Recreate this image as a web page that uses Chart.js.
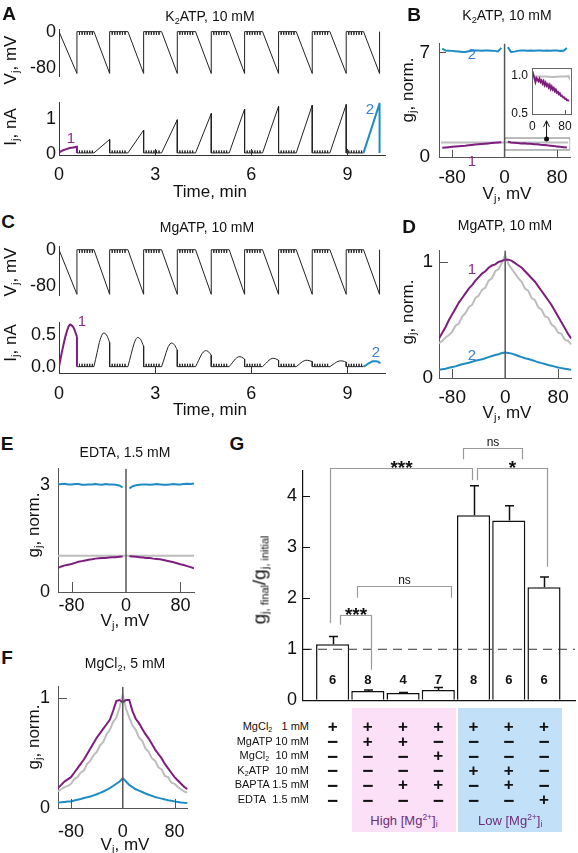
<!DOCTYPE html>
<html><head><meta charset="utf-8">
<script src="https://cdn.jsdelivr.net/npm/chart.js@4.4.1/dist/chart.umd.min.js"></script>
<style>
html,body{margin:0;padding:0;background:#fff;}
#root{position:relative;width:578px;height:853px;overflow:hidden;background:#fff;font-family:'Liberation Sans',Arial,sans-serif;color:#111;}
.t{position:absolute;white-space:nowrap;line-height:1;}
sub{font-size:0.65em;vertical-align:-0.3em;line-height:0;}
sup{font-size:0.65em;vertical-align:0.55em;line-height:0;}
canvas{position:absolute;}
</style></head><body><div id="root"></div>
<script>
// ================= DATA =================
// Panels A & C: voltage protocol (time in min)
const jumpT = [0.56, 1.58, 2.64, 3.69, 4.75, 5.79, 6.85, 7.90, 8.96, 10.0];
const rampT = [0.00, 1.09, 2.15, 3.20, 4.26, 5.31, 6.35, 7.40, 8.45, 9.50];
const combOffsets = [0.08, 0.16, 0.24, 0.32, 0.40, 0.48];
const vRampEndA = -91;
const vRampEndC = -99;
const vPulse = -7;
const rampFrac = [0, 0.2, 0.4, 0.6, 0.8, 1];
const timeTicks = [0, 3, 6, 9];
const vTicks = [0, -80];
// Panel A junctional current (nA)
const aBase = 0.03, aPulse = 0.07;
const aFirst = [0.04, 0.10, 0.14, 0.17, 0.19, 0.21];
const aPeak = [0.21, 0.42, 0.69, 0.99, 1.17, 1.30, 1.38, 1.41, 1.43, 1.46];
const aITicks = [0, 1];
// Panel C junctional current (nA), values at rampFrac of each ramp
const cBase = 0, cPulse = 0.045;
const cRamps = [
  [0, 0.28, 0.52, 0.66, 0.62, 0.47],
  [0, 0.22, 0.43, 0.53, 0.50, 0.38],
  [0, 0.19, 0.37, 0.46, 0.43, 0.32],
  [0, 0.15, 0.30, 0.37, 0.35, 0.26],
  [0, 0.10, 0.20, 0.25, 0.24, 0.18],
  [0, 0.06, 0.12, 0.155, 0.15, 0.12],
  [0, 0.05, 0.10, 0.13, 0.125, 0.10],
  [0, 0.04, 0.08, 0.10, 0.095, 0.08],
  [0, 0.035, 0.07, 0.09, 0.088, 0.07],
  [0, 0.03, 0.065, 0.085, 0.085, 0.075]
];
const cITicks = [0, 0.5];

// gj–Vj panels (Vj in mV)
const vGrid = [-100,-95,-90,-85,-80,-75,-70,-65,-60,-55,-50,-45,-40,-35,-30,-25,-20,-15,-10,-5,0,5,10,15,20,25,30,35,40,45,50,55,60,65,70,75,80,85,90,95,100];
const vjTicks = [-80, 0, 80];
// B: K2ATP
const bPurple = [null,0.62,0.64,0.66,0.68,0.70,0.72,0.74,0.76,0.79,0.81,0.83,0.85,0.87,0.89,0.91,0.93,0.95,0.97,0.99,null,1.02,0.97,0.96,0.94,0.91,0.92,0.88,0.89,0.85,0.86,0.82,0.81,0.78,0.76,0.73,0.71,0.68,0.66,0.64,null];
const bBlue = [null,7.25,7.12,7.11,7.10,7.08,7.06,7.02,7.03,7.08,7.11,7.12,7.12,7.11,7.12,7.12,7.11,7.10,7.06,7.30,null,7.35,7.02,7.05,7.10,7.12,7.12,7.11,7.12,7.11,7.12,7.12,7.11,7.12,7.11,7.12,7.12,7.10,7.11,7.30,null];
const bGrayX = [-97, 97], bGray = [0.97, 0.97];
const bBoxX = [0, 100, 100, 0, 0], bBoxY = [0.47, 0.47, 1.27, 1.27, 0.47];
const bArrowX = [64, 64], bArrowY = [1.21, 2.42];
const bHeadX = [59.5, 64, 68.5], bHeadY = [2.02, 2.42, 2.02];
const bTicksY = [0, 7];
// B inset
const inX = [0,2.5,5,7.5,10,12.5,15,17.5,20,22.5,25,27.5,30,32.5,35,37.5,40,42.5,45,47.5,50,52.5,55,57.5,60,62.5,65,67.5,70,72.5,75,77.5,80,82.5,85,87.5,90];
const inPurple = [1.06,1.01,0.97,0.92,0.97,0.95,0.93,0.96,0.92,0.94,0.90,0.93,0.88,0.91,0.87,0.89,0.85,0.88,0.83,0.86,0.82,0.84,0.80,0.82,0.78,0.79,0.76,0.77,0.74,0.74,0.72,0.72,0.70,0.70,0.68,0.68,0.67];
const inGrayX = [0, 2, 5, 10, 30, 50, 70, 85, 88, 90];
const inGray = [1.05, 1.01, 1.0, 0.99, 0.99, 0.985, 0.99, 0.99, 1.0, 0.98];
// D: MgATP
const dPurple = [0.34,0.39,0.44,0.50,0.55,0.60,0.65,0.69,0.73,0.77,0.80,0.84,0.87,0.90,0.92,0.95,0.97,0.98,1.00,1.01,1.02,1.02,1.01,0.99,0.97,0.95,0.92,0.89,0.86,0.83,0.79,0.75,0.71,0.67,0.63,0.58,0.53,0.48,0.43,0.38,0.34];
const dGray = [0.30,0.32,0.35,0.37,0.40,0.45,0.47,0.53,0.56,0.61,0.63,0.69,0.71,0.76,0.78,0.84,0.86,0.92,0.94,0.99,1.06,0.98,0.94,0.90,0.86,0.83,0.77,0.75,0.69,0.67,0.61,0.59,0.53,0.52,0.46,0.44,0.39,0.38,0.33,0.32,0.29];
const dBlue = [0.07,0.075,0.08,0.088,0.095,0.10,0.11,0.118,0.125,0.132,0.14,0.148,0.155,0.162,0.17,0.18,0.19,0.198,0.205,0.215,0.22,0.215,0.21,0.20,0.19,0.18,0.17,0.163,0.155,0.145,0.135,0.128,0.12,0.112,0.105,0.098,0.09,0.085,0.08,0.075,0.07];
const unitTicks = [0, 1];
// E: EDTA
const ePurple = [0.68,0.72,0.75,0.77,0.79,0.82,0.85,0.87,0.89,0.91,0.92,0.94,0.95,0.96,0.96,0.97,0.98,0.98,0.99,1.00,null,1.01,1.00,0.99,0.98,0.97,0.96,0.96,0.94,0.93,0.92,0.90,0.88,0.86,0.84,0.81,0.78,0.76,0.73,0.70,0.67];
const eBlue = [3.03,3.04,3.05,3.03,3.03,3.04,3.04,3.02,3.02,3.03,3.03,3.04,3.03,3.02,3.04,3.03,3.03,3.02,3.00,2.95,null,2.92,2.98,3.01,3.02,3.03,3.03,3.02,3.03,3.04,3.03,3.02,3.02,3.03,3.04,3.03,3.03,3.04,3.05,3.04,3.06];
const eGrayX = [-100, 100], eGray = [1.02, 1.02];
const eTicksY = [0, 3];
// F: MgCl2
const fPurple = [0.18,0.21,0.24,0.26,0.28,0.32,0.36,0.40,0.44,0.49,0.54,0.59,0.64,0.68,0.72,0.76,0.80,0.88,0.97,0.98,0.96,0.98,0.98,0.88,0.81,0.77,0.72,0.67,0.63,0.58,0.53,0.49,0.45,0.40,0.36,0.32,0.28,0.25,0.22,0.19,0.17];
const fGray = [0.15,0.17,0.19,0.20,0.22,0.26,0.28,0.32,0.34,0.40,0.43,0.48,0.51,0.57,0.60,0.67,0.71,0.78,0.82,0.91,1.03,0.90,0.82,0.75,0.71,0.64,0.61,0.54,0.51,0.45,0.43,0.37,0.35,0.29,0.28,0.23,0.22,0.19,0.17,0.15,0.14];
const fBlue = [0.05,0.052,0.055,0.058,0.06,0.068,0.075,0.082,0.09,0.097,0.105,0.115,0.125,0.137,0.15,0.165,0.18,0.20,0.22,0.24,0.27,0.24,0.21,0.19,0.17,0.157,0.145,0.132,0.12,0.11,0.10,0.092,0.085,0.078,0.07,0.065,0.06,0.055,0.05,0.047,0.045];

// G: bar chart
const gCats = [1, 2, 3, 4, 5, 6, 7];
const gMean = [1.10, 0.18, 0.14, 0.20, 3.63, 3.53, 2.22];
const gSem = [0.15, 0.02, 0.01, 0.05, 0.58, 0.29, 0.20];
const gN = [6, 8, 4, 7, 8, 6, 6];
const gTicks = [0, 1, 2, 3, 4];
const gRef = 1;
// brackets: [xLeft, xRight, yTop, yLeftEnd, yRightEnd]
const gBrackets = [
  [0.93, 4.95, 4.56, 1.51, 4.32],
  [4.69, 6.37, 4.95, 4.73, 4.73],
  [5.09, 7.09, 4.56, 4.32, 2.62],
  [1.70, 4.35, 2.25, 2.01, 2.01],
  [1.21, 2.08, 1.67, 1.48, 0.60]
];
const gBracketLabels = ['***', 'ns', '*', 'ns', '***'];
const gRows = ['MgCl<sub>2</sub>&nbsp;&nbsp;&nbsp;1 mM', 'MgATP 10 mM', 'MgCl<sub>2</sub>&nbsp;&nbsp;10 mM', 'K<sub>2</sub>ATP&nbsp;&nbsp;10 mM', 'BAPTA 1.5 mM', 'EDTA&nbsp;&nbsp;1.5 mM'];
const gSigns = [
  ['+','+','+','+','+','+','+'],
  ['-','+','+','-','-','-','-'],
  ['-','-','-','+','-','-','-'],
  ['-','-','-','-','+','+','-'],
  ['-','-','+','+','-','+','-'],
  ['-','-','-','-','-','-','+']
];
const gGroups = [[1.55, 4.50], [4.56, 7.52]];
const gGroupLabels = ['High [Mg<sup>2+</sup>]<sub>i</sub>', 'Low [Mg<sup>2+</sup>]<sub>i</sub>'];

// ================= STYLE =================
const PURPLE = '#7d1d7d', BLUE = '#1e8cc2', GRAY = '#bdbdbd', BLACK = '#222';
const root = document.getElementById('root');
Chart.defaults.font.family = "'Liberation Sans', Arial, sans-serif";
Chart.defaults.color = '#111';

const xy = (xs, ys) => xs.map((x, i) => ({x, y: ys[i]}));
function ds(data, color, width, extra) {
  return Object.assign({type: 'line', data, borderColor: color, backgroundColor: color, borderWidth: width, pointRadius: 0, fill: false, spanGaps: false, tension: 0}, extra || {});
}
function axis(o) {
  return {
    type: 'linear', min: o.min, max: o.max, display: o.display !== false, offset: false,
    afterBuildTicks: s => { s.ticks = (o.ticks || []).map(v => ({value: v})); },
    afterFit: o.fit,
    ticks: {display: !!(o.ticks && o.ticks.length), font: {size: o.font || 18}, padding: o.pad ?? 4, color: '#111', maxRotation: 0, autoSkip: false, callback: o.fmt || (v => String(v))},
    grid: {display: true, drawOnChartArea: false, drawTicks: false},
    border: {display: true, color: o.color || '#333', width: o.bw || 1}
  };
}
function tickPlugin(o) {
  return {id: 'inTicks', afterDraw(chart) {
    const {ctx, chartArea: a, scales} = chart;
    ctx.save(); ctx.strokeStyle = o.color || '#444'; ctx.lineWidth = 1;
    (o.x || []).forEach(v => { const p = Math.round(scales.x.getPixelForValue(v)) + 0.5; ctx.beginPath(); ctx.moveTo(p, a.bottom); ctx.lineTo(p, a.bottom - o.len); ctx.stroke(); });
    (o.y || []).forEach(v => { const p = Math.round(scales.y.getPixelForValue(v)) + 0.5; ctx.beginPath(); ctx.moveTo(a.left, p); ctx.lineTo(a.left + o.len, p); ctx.stroke(); });
    ctx.restore();
  }};
}
function makeChart(cfg) {
  const a = cfg.area, m = cfg.m;
  const W = a.x2 - a.x1 + m.l + m.r, H = a.y2 - a.y1 + m.t + m.b;
  const cv = document.createElement('canvas');
  cv.width = W; cv.height = H;
  cv.style.cssText = `left:${a.x1 - m.l}px;top:${a.y1 - m.t}px;width:${W}px;height:${H}px`;
  root.appendChild(cv);
  const plugins = [];
  if (cfg.inTicks) plugins.push(tickPlugin(cfg.inTicks));
  if (cfg.extra) plugins.push(...cfg.extra);
  const ch = new Chart(cv, {
    type: cfg.type || 'line',
    data: {datasets: cfg.datasets},
    options: {
      responsive: false, animation: false, events: [],
      layout: {padding: {left: 0, top: m.t, right: m.r, bottom: 0}},
      plugins: {legend: {display: false}, tooltip: {enabled: false}},
      elements: {point: {radius: 0}, line: {tension: 0, borderWidth: 1}},
      scales: {
        x: axis(Object.assign({fit: s => { s.height = m.b; }}, cfg.x)),
        y: axis(Object.assign({fit: s => { s.width = m.l; }}, cfg.y))
      }
    },
    plugins
  });
  ch.$off = {x: a.x1 - m.l, y: a.y1 - m.t};
  return ch;
}
function txt(html, x, y, style, rot, anchor) {
  const d = document.createElement('div');
  d.className = 't';
  d.innerHTML = html;
  const tr = anchor === 'right' ? 'translate(-100%,-50%)' : 'translate(-50%,-50%)';
  d.style.cssText = `left:${x}px;top:${y}px;transform:${tr}${rot ? ' rotate(-90deg)' : ''};${style || ''}`;
  root.appendChild(d);
  return d;
}

// ================= TRACE BUILDERS =================
function vTrace(bottom) {
  const p = [];
  for (let k = 0; k < jumpT.length; k++) {
    if (k > 0) combOffsets.forEach(o => { const t = jumpT[k - 1] + o; p.push({x: t, y: 0}, {x: t, y: vPulse}, {x: t, y: 0}); });
    p.push({x: rampT[k], y: 0}, {x: jumpT[k], y: bottom}, {x: jumpT[k], y: 0});
  }
  return p;
}
function aCurrent() {
  const n = jumpT.length, black = [];
  const purple = rampFrac.map((f, i) => ({x: rampT[0] + f * (jumpT[0] - rampT[0]), y: aFirst[i]}));
  purple.push({x: jumpT[0], y: aBase});
  for (let k = 0; k < n - 1; k++) {
    black.push({x: jumpT[k], y: aBase});
    combOffsets.forEach(o => { const t = jumpT[k] + o; black.push({x: t, y: aBase}, {x: t, y: aBase + aPulse}, {x: t, y: aBase}); });
    black.push({x: rampT[k + 1], y: aBase});
    if (k + 1 < n - 1) black.push({x: jumpT[k + 1], y: aPeak[k + 1]}, {x: jumpT[k + 1], y: aBase});
  }
  const blue = [{x: rampT[n - 1], y: aBase}, {x: jumpT[n - 1], y: aPeak[n - 1]}, {x: jumpT[n - 1], y: aBase}];
  return {black, purple, blue};
}
function cCurrent() {
  const n = jumpT.length;
  const bump = k => rampFrac.map((f, i) => ({x: rampT[k] + f * (jumpT[k] - rampT[k]), y: cRamps[k][i]}));
  const flat = [], bumps = [];
  for (let k = 0; k < n - 1; k++) {
    if (k > 0) flat.push({x: jumpT[k], y: cRamps[k][5]});
    flat.push({x: jumpT[k], y: cBase});
    combOffsets.forEach(o => { const t = jumpT[k] + o; flat.push({x: t, y: cBase}, {x: t, y: cBase + cPulse}, {x: t, y: cBase}); });
    flat.push({x: rampT[k + 1], y: cBase}, {x: rampT[k + 1] + 0.01, y: null});
    if (k > 0) bumps.push(...bump(k), {x: jumpT[k] + 0.01, y: null});
  }
  return {
    flat, bumps,
    purple: bump(0), purpleDrop: [{x: jumpT[0], y: cRamps[0][5]}, {x: jumpT[0], y: cBase}],
    blue: bump(n - 1), blueDrop: [{x: jumpT[n - 1], y: cRamps[n - 1][5]}, {x: jumpT[n - 1], y: cRamps[n - 1][5] - 0.03}]
  };
}

// ================= PANEL A =================
const tAxis = {min: 0, max: 10.17};
makeChart({area: {x1: 59, x2: 385, y1: 28, y2: 90}, m: {l: 50, t: 12, r: 8, b: 0},
  x: Object.assign({display: false}, tAxis),
  y: {min: -97, max: 4, ticks: vTicks, pad: 3},
  datasets: [ds(vTrace(vRampEndA), BLACK, 1)]});
const aI = aCurrent();
makeChart({area: {x1: 59, x2: 385, y1: 95, y2: 155}, m: {l: 50, t: 6, r: 8, b: 40},
  x: Object.assign({ticks: timeTicks, pad: 9}, tAxis),
  y: {min: -0.03, max: 1.48, ticks: aITicks, pad: 3},
  inTicks: {x: [3, 6, 9], len: 6, color: '#333'},
  datasets: [ds(aI.purple, PURPLE, 2), ds(aI.blue, BLUE, 2), ds(aI.black, BLACK, 1)]});

// ================= PANEL C =================
makeChart({area: {x1: 59, x2: 385, y1: 245, y2: 309}, m: {l: 50, t: 12, r: 8, b: 0},
  x: Object.assign({display: false}, tAxis),
  y: {min: -101, max: 6.5, ticks: vTicks, pad: 3},
  datasets: [ds(vTrace(vRampEndC), BLACK, 1)]});
const cI = cCurrent();
makeChart({area: {x1: 59, x2: 385, y1: 313, y2: 373}, m: {l: 50, t: 4, r: 8, b: 40},
  x: Object.assign({ticks: timeTicks, pad: 10}, tAxis),
  y: {min: -0.1, max: 0.69, ticks: cITicks, pad: 3, fmt: v => v.toFixed(1)},
  inTicks: {x: [3, 6, 9], len: 6, color: '#333'},
  datasets: [ds(cI.purple, PURPLE, 2, {tension: 0.3}), ds(cI.purpleDrop, PURPLE, 2),
             ds(cI.blue, BLUE, 2, {tension: 0.3}), ds(cI.blueDrop, BLUE, 2),
             ds(cI.bumps, BLACK, 1, {tension: 0.3}), ds(cI.flat, BLACK, 1)]});

// ================= gj panels =================
const spine = '#555';
function zeroLine(min, max) { return ds([{x: 0, y: min}, {x: 0, y: max}], '#555', 1.5); }

// B
makeChart({area: {x1: 439, x2: 574, y1: 33, y2: 157}, m: {l: 40, t: 10, r: 3, b: 40},
  x: {min: -100, max: 100, ticks: vjTicks, pad: 9, font: 19, color: spine},
  y: {min: 0, max: 7.6, ticks: bTicksY, pad: 9, font: 19, color: spine},
  inTicks: {x: [-80, 80], y: [7], len: 7, color: '#555'},
  datasets: [zeroLine(0, 7.6),
    ds(xy(bArrowX, bArrowY), '#111', 1), ds(xy(bHeadX, bHeadY), '#111', 1),
    ds([{x: bArrowX[0], y: bArrowY[0]}], '#111', 0, {pointRadius: 2.5, showLine: false}),
    ds(xy(vGrid, bBlue), BLUE, 2), ds(xy(vGrid, bPurple), PURPLE, 2),
    ds(xy(bGrayX, bGray), GRAY, 2), ds(xy(bBoxX, bBoxY), '#777', 1)]});
// B inset
const insetBg = {id: 'insetBg', beforeDatasetsDraw(chart) { const {ctx, chartArea: a} = chart; ctx.save(); ctx.fillStyle = '#fff'; ctx.fillRect(a.left, a.top, a.right - a.left, a.bottom - a.top); ctx.restore(); },
  afterDraw(chart) { const {ctx, chartArea: a} = chart; ctx.save(); ctx.strokeStyle = '#666'; ctx.lineWidth = 1; ctx.strokeRect(Math.round(a.left) + 0.5, Math.round(a.top) + 0.5, Math.round(a.right - a.left), Math.round(a.bottom - a.top)); ctx.restore(); }};
makeChart({area: {x1: 532, x2: 574, y1: 65, y2: 114}, m: {l: 26, t: 8, r: 3, b: 22},
  x: {min: -1, max: 94, ticks: [0, 80], pad: 5, font: 12, color: '#666'},
  y: {min: 0.5, max: 1.1, ticks: [0.5, 1.0], pad: 4, font: 12, color: '#666', fmt: v => v.toFixed(1)},
  inTicks: {x: [80], len: 4, color: '#666'}, extra: [insetBg],
  datasets: [ds(xy(inX, inPurple), PURPLE, 2), ds(xy(inGrayX, inGray), GRAY, 2)]});

// D
makeChart({area: {x1: 439, x2: 574, y1: 243, y2: 378}, m: {l: 40, t: 10, r: 3, b: 40},
  x: {min: -100, max: 100, ticks: vjTicks, pad: 8, font: 19, color: spine},
  y: {min: 0, max: 1.1, ticks: unitTicks, pad: 6, font: 19, color: spine},
  inTicks: {x: [-80, 80], y: [1], len: 9, color: '#555'},
  datasets: [zeroLine(0, 1.1), ds(xy(vGrid, dPurple), PURPLE, 2), ds(xy(vGrid, dBlue), BLUE, 2), ds(xy(vGrid, dGray), GRAY, 2)]});

// E
makeChart({area: {x1: 58, x2: 194, y1: 458, y2: 592}, m: {l: 30, t: 8, r: 4, b: 36},
  x: {min: -100, max: 100, ticks: vjTicks, pad: 3, font: 18, color: spine},
  y: {min: 0, max: 3.47, ticks: eTicksY, pad: 8, font: 18, color: spine},
  inTicks: {x: [-80, 80], len: 10, color: '#555'},
  datasets: [zeroLine(0, 3.47), ds(xy(vGrid, ePurple), PURPLE, 2), ds(xy(vGrid, eBlue), BLUE, 2), ds(xy(eGrayX, eGray), GRAY, 2)]});

// F
makeChart({area: {x1: 58, x2: 194, y1: 676, y2: 808}, m: {l: 30, t: 8, r: 4, b: 40},
  x: {min: -100, max: 100, ticks: vjTicks, pad: 13, font: 18, color: spine},
  y: {min: 0, max: 1.1, ticks: unitTicks, pad: 8, font: 18, color: spine},
  inTicks: {x: [-80, 80], y: [1], len: 9, color: '#555'},
  datasets: [zeroLine(0, 1.1), ds(xy(vGrid, fPurple), PURPLE, 2), ds(xy(vGrid, fBlue), BLUE, 2), ds(xy(vGrid, fGray), GRAY, 2)]});

// ================= PANEL G =================
const gExtras = {id: 'gExtras', afterDatasetsDraw(chart) {
  const {ctx, scales: {x, y}} = chart;
  const px = v => x.getPixelForValue(v), py = v => y.getPixelForValue(v);
  ctx.save();
  // error bars
  ctx.strokeStyle = '#111'; ctx.lineWidth = 1.5;
  gCats.forEach((c, i) => {
    const X = Math.round(px(c)) + 0.5, Y0 = py(gMean[i]), Y1 = py(gMean[i] + gSem[i]);
    ctx.beginPath(); ctx.moveTo(X, Y0); ctx.lineTo(X, Y1); ctx.moveTo(X - 4.5, Y1); ctx.lineTo(X + 4.5, Y1); ctx.stroke();
  });
  // n labels
  ctx.fillStyle = '#111'; ctx.font = "bold 13px 'Liberation Sans', Arial"; ctx.textAlign = 'center'; ctx.textBaseline = 'middle';
  gCats.forEach((c, i) => ctx.fillText(String(gN[i]), px(c), py(0.38)));
  // brackets
  ctx.strokeStyle = '#9a9a9a'; ctx.lineWidth = 1.2;
  gBrackets.forEach((b, i) => {
    const X1 = Math.round(px(b[0])) + 0.5, X2 = Math.round(px(b[1])) + 0.5, Y = Math.round(py(b[2])) + 0.5;
    ctx.beginPath(); ctx.moveTo(X1, py(b[3])); ctx.lineTo(X1, Y); ctx.lineTo(X2, Y); ctx.lineTo(X2, py(b[4])); ctx.stroke();
    const lab = gBracketLabels[i];
    ctx.textBaseline = 'alphabetic'; ctx.fillStyle = '#111';
    if (lab === 'ns') { ctx.font = "12px 'Liberation Sans', Arial"; ctx.fillText(lab, (X1 + X2) / 2, Y - 3); }
    else { ctx.font = "bold 19px 'Liberation Sans', Arial"; ctx.fillText(lab, (X1 + X2) / 2, Y + 5); }
  });
  ctx.restore();
}};
const gChart = makeChart({type: 'bar', area: {x1: 303, x2: 575, y1: 471, y2: 703}, m: {l: 40, t: 35, r: 2, b: 14},
  x: {min: 0.16, max: 7.88, ticks: [], color: '#111', bw: 1.2},
  y: {min: 0, max: 4.5, ticks: gTicks, pad: 6, font: 18, color: '#111', bw: 1.2},
  inTicks: {y: [1, 2, 3, 4], len: 7, color: '#111'}, extra: [gExtras],
  datasets: [
    ds([{x: 0.16, y: gRef}, {x: 7.88, y: gRef}], '#333', 1, {borderDash: [9, 6]}),
    {type: 'bar', data: xy(gCats, gMean), backgroundColor: '#fff', borderColor: '#111', borderWidth: 1.5, categoryPercentage: 1, barPercentage: 0.94}
  ]});

// table under G
const gx = v => gChart.$off.x + gChart.scales.x.getPixelForValue(v);
const groupColors = ['#fbe0f8', '#c2e0f8'];
gGroups.forEach((g, i) => {
  const d = document.createElement('div');
  d.style.cssText = `position:absolute;left:${gx(g[0])}px;top:708px;width:${gx(g[1]) - gx(g[0])}px;height:124px;background:${groupColors[i]}`;
  root.appendChild(d);
  txt(gGroupLabels[i], (gx(g[0]) + gx(g[1])) / 2, 820, 'font-size:13px;color:#6b2d7b');
});
const rowY = [726, 740.6, 755.2, 769.8, 784.4, 799];
gRows.forEach((r, i) => {
  txt(r, 309, rowY[i], 'font-size:11px;color:#111', false, 'right');
  gSigns[i].forEach((s, j) => {
    if (s === '+') txt('+', gx(gCats[j]), rowY[i], 'font-size:17px;font-weight:bold;color:#111');
    else txt('&minus;', gx(gCats[j]), rowY[i] + 0.5, 'font-size:19px;font-weight:bold;color:#111');
  });
});

// ================= TEXT =================
const L = 'font-size:19px;font-weight:bold';
[['A', 9, 13], ['B', 414, 14], ['C', 8, 221], ['D', 409, 226], ['E', 7, 443], ['F', 7, 657], ['G', 237, 443]].forEach(p => txt(p[0], p[1], p[2], L));
const T = 'font-size:14px';
txt('K<sub>2</sub>ATP, 10 mM', 210, 16, T);
txt('K<sub>2</sub>ATP, 10 mM', 507, 15, T);
txt('MgATP, 10 mM', 207, 227, T);
txt('MgATP, 10 mM', 505, 225, T);
txt('EDTA, 1.5 mM', 125, 452, T);
txt('MgCl<sub>2</sub>, 5 mM', 125, 663, T);
const X = 'font-size:17px';
txt('Time, min', 210, 191, X);
txt('Time, min', 210, 409, X);
txt('V<sub>j</sub>, mV', 507, 193, X);
txt('V<sub>j</sub>, mV', 507, 412, X);
txt('V<sub>j</sub>, mV', 125, 620, X);
txt('V<sub>j</sub>, mV', 125, 844, X);
txt('V<sub>j</sub>, mV', 10, 60, X, true);
txt('I<sub>j</sub>, nA', 10, 127, X, true);
txt('V<sub>j</sub>, mV', 10, 272, X, true);
txt('I<sub>j</sub>, nA', 10, 343, X, true);
txt('g<sub>j</sub>, norm.', 407, 90, X, true);
txt('g<sub>j</sub>, norm.', 407, 312, X, true);
txt('g<sub>j</sub>, norm.', 33, 525, X, true);
txt('g<sub>j</sub>, norm.', 33, 737, X, true);
txt('g<sub style="font-size:11px">j, final</sub>/g<sub style="font-size:11px">j, initial</sub>', 259, 580, 'font-size:19px', true);
const P = 'font-size:15px;color:#8a2c8a', Bl = 'font-size:15px;color:#3d7fd1';
txt('1', 71, 137, P); txt('2', 370, 108, Bl);
txt('1', 82, 320, P); txt('2', 376, 351, Bl);
txt('2', 472, 53, Bl); txt('1', 472, 160, P);
txt('1', 472, 268, P); txt('2', 472, 354, Bl);
</script></body></html>
